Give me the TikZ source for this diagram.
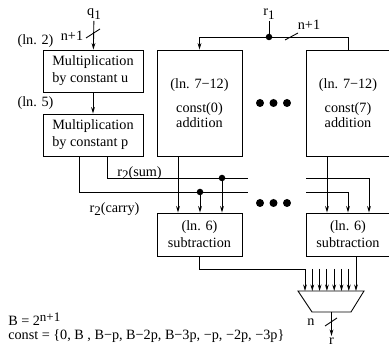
\documentclass[tikz,border=0pt]{standalone}
\usepackage{fontspec}
\setmainfont{Liberation Serif}
\usetikzlibrary{arrows.meta}
\newdimen\px \px=0.69pt
\newcommand\lowidx[1]{\raisebox{-.55ex}{\small #1}}
\newcommand\highidx[1]{\raisebox{.75ex}{\small #1}}
\tikzset{
 wire/.style={line width=.6pt},
 arr/.style={wire,-{Stealth[length=4.5pt,width=2.6pt]}},
 unit/.style={draw,line width=.6pt,inner sep=0,align=center},
 joint/.style={circle,fill,inner sep=0,minimum size=6.5\px},
 bigdot/.style={circle,fill,inner sep=0,minimum size=8\px},
 lbl/.style={inner sep=1pt}
}
\begin{document}
\begin{tikzpicture}[x=0.69pt,y=-0.69pt,font=\fontsize{9.8}{11.8}\selectfont]
\useasboundingbox (0,0) rectangle (389,348);
% multipliers
\node[unit,minimum width=100\px,minimum height=42\px,align=left] (mulu) at (93,71) {Multiplication\\by constant u};
\node[unit,minimum width=100\px,minimum height=42\px,align=left] (mulp) at (93,135) {Multiplication\\by constant p};
% const additions
\node[unit,minimum width=85\px,minimum height=106\px] (add0) at (199.5,103) {(ln. 7−12)\\[5pt]const(0)\\[-2pt]addition};
\node[unit,minimum width=84\px,minimum height=106\px] (add7) at (348,103) {(ln. 7−12)\\[5pt]const(7)\\[-2pt]addition};
% subtractions
\node[unit,minimum width=85\px,minimum height=43\px] (sub0) at (199.5,234.5) {(ln. 6)\\subtraction};
\node[unit,minimum width=84\px,minimum height=43\px] (sub7) at (348,234.5) {(ln. 6)\\subtraction};
% labels
\node[lbl] (q1) at (94,14) {q\lowidx1};
\node[lbl] (r1) at (269,14) {r\lowidx1};
\node[lbl] (ln2) at (35.5,41) {(ln. 2)};
\node[lbl] (ln5) at (35.5,103) {(ln. 5)};
\node[lbl] (wq) at (72,36) {n+1};
\node[lbl] (wr) at (309,25) {n+1};
\node[lbl] (sumlbl) at (139.5,173) {r\lowidx2(sum)};
\node[lbl] (carrylbl) at (114.5,209) {r\lowidx2(carry)};
% input q1
\draw[arr] (q1) -- (mulu);
\draw[wire] (86,38) -- (100,29);
\draw[arr] (mulu) -- (mulp);
% input r1
\coordinate (r1j) at (269,37);
\draw[wire] (r1) -- (r1j);
\draw[arr] (r1j) -| (add0.north);
\draw[wire] (r1j) -| (add7.north);
\draw[wire] (285,40) -- (298,33);
\node[joint] at (r1j) {};
% r2 sum and carry
\coordinate (sum0) at (248,178);
\coordinate (carry0) at (248,192);
\coordinate (sumj) at (222,178);
\coordinate (carryj) at (200,192);
\draw[wire] ([xshift=14\px]mulp.south) |- (sum0);
\draw[wire] ([xshift=-14\px]mulp.south) |- (carry0);
\draw[arr] (sumj) -- (sumj |- sub0.north);
\draw[arr] (carryj) -- (carryj |- sub0.north);
\draw[arr] ([xshift=-21.5\px]add0.south) -- ([xshift=-21.5\px]sub0.north);
\node[joint] at (sumj) {};
\node[joint] at (carryj) {};
\coordinate (sum7) at (306,178);
\coordinate (carry7) at (306,192);
\draw[arr] (sum7) -| ([xshift=21\px]sub7.north);
\draw[arr] (carry7) -| (sub7.north);
\draw[arr] ([xshift=-21\px]add7.south) -- ([xshift=-21\px]sub7.north);
% dots
\foreach \x [count=\i] in {260,273.5,287} {
  \node[bigdot] (adot\i) at (\x,103) {};
  \node[bigdot] (sdot\i) at (\x,203) {};
}
% multiplexer
\coordinate (muxtl) at (298,291);
\coordinate (muxout) at (331.5,312);
\draw[wire] (muxtl) -- (364,291) -- (351,312) -- (312,312) -- cycle;
\coordinate (bus) at (305,269);
\draw[arr] (sub0.south) |- (bus) -- (bus |- muxtl);
\foreach \i in {1,...,6}
  \draw[arr] ({305+7.3*\i},269) -- ({305+7.3*\i},291);
\draw[arr] ([xshift=8\px]sub7.south) -- ([xshift=8\px]sub7.south |- muxtl);
\node[lbl] (nlbl) at (311,322) {n};
\node[lbl] (r) at (331.5,341) {r};
\draw[arr] (muxout) -- (r);
\draw[wire] (325,326) -- (337,318);
% notes
\node[anchor=base west,inner sep=0] (beq) at (8,326) {B = 2\highidx{n+1}};
\node[anchor=base west,inner sep=0] (consts) at (8,340) {const = \{0, B , B−p, B−2p, B−3p, −p, −2p, −3p\}};
\end{tikzpicture}
\end{document}
